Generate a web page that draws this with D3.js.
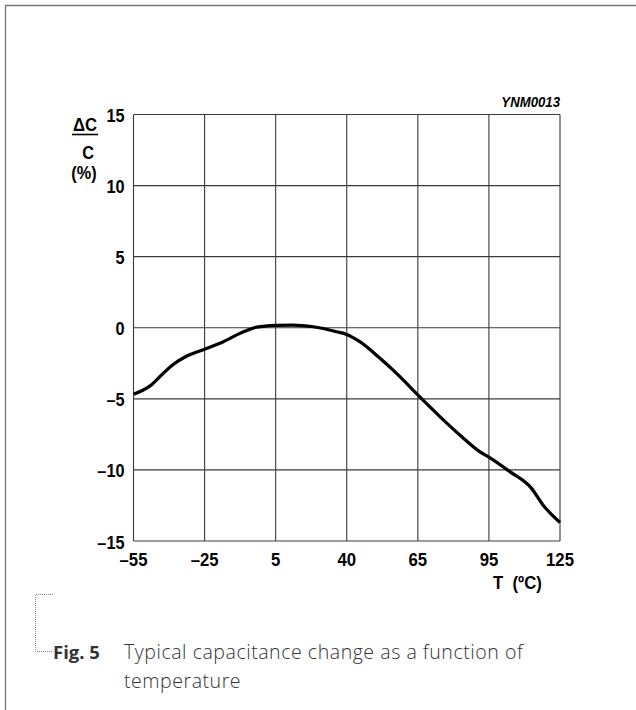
<!DOCTYPE html>
<html>
<head>
<meta charset="utf-8">
<script src="https://cdn.jsdelivr.net/npm/d3@7"></script>
<style>
  html, body { margin: 0; padding: 0; background: #fff; }
  svg { display: block; }
  .tick-label { font-family: "Liberation Sans", Arial, sans-serif; font-weight: bold; fill: #000; }
  .caption { font-family: "Open Sans", Lato, sans-serif; fill: #333; }
</style>
</head>
<body>
<svg id="chart" width="636" height="710"></svg>
<script>
// ---- data ----
const xTickValues = [-55, -25, 5, 40, 65, 95, 125];
const yTickValues = [-15, -10, -5, 0, 5, 10, 15];
const temperature = [-55, -48, -42.4, -38.1, -32.5, -25, -17.1, -8.6, -3, 5, 13.7, 23.5, 35, 40, 44.6, 51.7, 58.7, 65, 74.3, 82.7, 91.1, 95, 103.8, 112.9, 117.8, 125];
const capChange   = [-4.68, -4.09, -3.2, -2.57, -1.99, -1.51, -0.98, -0.28, 0.04, 0.17, 0.19, 0.07, -0.28, -0.47, -0.98, -2.15, -3.44, -4.73, -6.25, -7.54, -8.71, -9.1, -10.12, -11.28, -12.46, -13.7];
const chartCode = "YNM0013";
const xAxisTitle = "T  (\u00BAC)";
const yAxisTitle = ["\u0394C", "C", "(%)"];
const captionLabel = "Fig. 5";
const captionLines = ["Typical capacitance change as a function of", "temperature"];

// ---- layout ----
const plot = { left: 133.5, right: 560, top: 114.5, bottom: 541 };
const svg = d3.select("#chart");
const SX = 0.88; // horizontal compression of the bold label font

// helper: bold label text, horizontally compressed
function label(parent, xPos, yPos, txt, size, anchor, extra) {
  const t = parent.append("g")
    .attr("transform", `translate(${xPos},${yPos}) scale(${SX},1)`)
    .append("text").attr("class", "tick-label")
    .attr("x", 0).attr("y", 0)
    .attr("font-size", size).attr("text-anchor", anchor)
    .text(txt);
  if (extra) extra(t);
  return t;
}

// frame
svg.append("path")
  .attr("d", "M5.5,710 V5.5 H636")
  .attr("fill", "none").attr("stroke", "#777").attr("stroke-width", 1.3);

// scales (x ticks evenly spaced though values are not)
const xRange = xTickValues.map((d, i) => plot.left + i * (plot.right - plot.left) / (xTickValues.length - 1));
const x = d3.scaleLinear().domain(xTickValues).range(xRange);
const y = d3.scaleLinear().domain([-15, 15]).range([plot.bottom, plot.top]);

const g = svg.append("g");

// grid
g.selectAll("line.vgrid").data(xTickValues).join("line")
  .attr("x1", d => x(d)).attr("x2", d => x(d))
  .attr("y1", plot.top).attr("y2", plot.bottom)
  .attr("stroke", "#3a3a3a").attr("stroke-width", 1.1);
g.selectAll("line.hgrid").data(yTickValues).join("line")
  .attr("x1", plot.left).attr("x2", plot.right)
  .attr("y1", d => y(d)).attr("y2", d => y(d))
  .attr("stroke", "#3a3a3a").attr("stroke-width", 1.1);

// curve
const line = d3.line().x((d, i) => x(temperature[i])).y(d => y(d)).curve(d3.curveMonotoneX);
g.append("path")
  .datum(capChange)
  .attr("d", line)
  .attr("fill", "none").attr("stroke", "#000").attr("stroke-width", 3.2)
  .attr("stroke-linejoin", "round").attr("stroke-linecap", "butt");

// tick labels
const fmt = d => d < 0 ? "\u2013" + Math.abs(d) : String(d);
xTickValues.forEach(d => label(g, x(d), plot.bottom + 25, fmt(d), 19, "middle"));
yTickValues.forEach(d => label(g, plot.left - 9, y(d) + 7.5, fmt(d), 18.5, "end"));

// chart code
label(svg, plot.right, 107, chartCode, 15, "end", t => t.attr("font-style", "italic"));

// axis titles
label(svg, 493, 589, xAxisTitle, 19, "start", t => t.style("white-space", "pre"));

label(svg, 85, 131, yAxisTitle[0], 19, "middle");
svg.append("line").attr("x1", 72).attr("x2", 98).attr("y1", 134.5).attr("y2", 134.5)
  .attr("stroke", "#000").attr("stroke-width", 1.6);
label(svg, 88, 159, yAxisTitle[1], 18.5, "middle");
label(svg, 84, 179, yAxisTitle[2], 18.5, "middle");

// caption bracket
svg.append("path")
  .attr("d", "M53,594.5 H35.5 V651.5 H52")
  .attr("fill", "none").attr("stroke", "#888").attr("stroke-width", 1)
  .attr("stroke-dasharray", "1,1");

svg.append("text").attr("class", "caption")
  .attr("x", 53).attr("y", 659).attr("font-size", 18.5).attr("font-weight", "bold").attr("fill", "#000")
  .text(captionLabel);
captionLines.forEach((t, i) => {
  svg.append("text").attr("class", "caption")
    .attr("x", 124).attr("y", 659 + i * 28.5).attr("font-size", 19.5)
    .attr("font-weight", 300).attr("letter-spacing", 0.55)
    .text(t);
});
</script>
</body>
</html>
